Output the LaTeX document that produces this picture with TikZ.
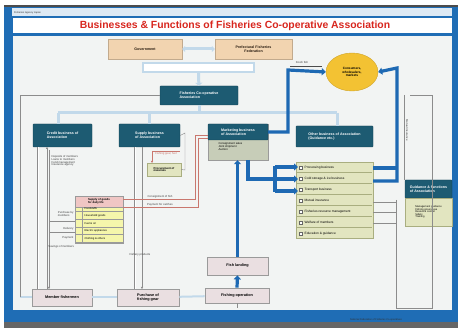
\documentclass[tikz,border=0pt]{standalone}
\usepackage{fontspec}
\setmainfont{Liberation Sans}
\usetikzlibrary{arrows.meta,shapes.geometric}
\definecolor{frameblue}{HTML}{1F6DB5}
\definecolor{titlered}{HTML}{D8261E}
\definecolor{panel}{HTML}{F2F4F3}
\definecolor{tealbox}{HTML}{1D5B72}
\definecolor{tanbox}{HTML}{F2D4B0}
\definecolor{yel}{HTML}{F3C233}
\definecolor{greenlist}{HTML}{E2E5C0}
\definecolor{greenedge}{HTML}{A9AE80}
\definecolor{graybox}{HTML}{EADFE1}
\definecolor{grayedge}{HTML}{9A9A9A}
\definecolor{lightblue}{HTML}{C2D9EA}
\definecolor{arrowblue}{HTML}{1E69B3}
\definecolor{pinkhead}{HTML}{F0C6C4}
\definecolor{redline}{HTML}{C9776E}
\definecolor{mktlow}{HTML}{C7CDB8}
\newcommand{\fs}[1]{\fontsize{#1}{#1}\selectfont}
\tikzset{
  tealnode/.style={draw=tealbox!70!black, fill=tealbox, text=white, font=\fs{3.6}\bfseries, align=left, inner sep=1pt, rounded corners=0.6pt},
  tannode/.style={draw=tanbox!80!black, fill=tanbox, text=black!80!brown, font=\fs{3.6}\bfseries, align=center, inner sep=1pt},
  graynode/.style={draw=grayedge, fill=graybox, font=\fs{3.8}\bfseries, align=center, inner sep=1pt, line width=0.8pt},
  listbox/.style={draw=greenedge, fill=greenlist, inner sep=0pt},
  itemtext/.style={font=\fs{3.2}, anchor=west, inner sep=0.5pt},
  small/.style={font=\fs{2.8}, text=black!75, inner sep=0.3pt, align=left},
  bluearrow/.style={draw=arrowblue, line width=3.2pt, -{Triangle[length=4pt,width=7pt]}},
  blueline/.style={draw=arrowblue, line width=3.2pt},
  lband/.style={draw=lightblue, line width=3pt},
  thin/.style={draw=black!45, line width=0.45pt},
  thinred/.style={draw=redline, line width=0.5pt},
}
\begin{document}
\begin{tikzpicture}[x=1pt,y=-1pt]
\useasboundingbox (0,0) rectangle (461,328);
\fill[white] (0,0) rectangle (461,328);
% frame
\fill[frameblue] (4,6) rectangle (458,324);
\fill[black!70] (4,5) rectangle (458,7);
\fill[black!60] (4,322) rectangle (458,328);
\fill[frameblue!15] (12,8) rectangle (452,16);
\fill[white] (13,18) rectangle (452,33);
\fill[panel] (13,36) rectangle (452,310);
\node[font=\fs{2.5}, text=black!80, anchor=west, inner sep=0pt] (toptag) at (14,13) {Fisheries Agency Japan};
\node[font=\fs{2.5}, text=black!80, anchor=west, inner sep=0pt] (bottag) at (350,320) {National Federation of Fisheries Co-operatives};
% title
\node[font=\fs{10.4}\bfseries, text=titlered] (title) at (235,25.5) {Businesses \& Functions of Fisheries Co-operative Association};

% top boxes
\node[tannode, minimum width=74pt, minimum height=20pt] (gov) at (145,49) {Government};
\node[tannode, minimum width=77pt, minimum height=20pt] (pref) at (253.5,49) {Prefectural Fisheries\\Federation};
\draw[draw=lightblue, line width=3pt, {Triangle[length=3pt,width=6pt]}-{Triangle[length=3pt,width=6pt]}] (gov) -- (pref);
\node[draw=lightblue, fill=white, line width=1.6pt, minimum width=111pt, minimum height=9pt, inner sep=0pt] (bridge) at (198.5,67.5) {};
\node[tealnode, minimum width=78pt, minimum height=19pt] (fca) at (199,95.5) {Fisheries Co-operative\\Association};
\draw[draw=lightblue, line width=3pt, -{Triangle[length=3pt,width=7pt]}] (bridge) -- (fca);

% business boxes
\node[tealnode, minimum width=59pt, minimum height=23pt] (credit) at (62.5,135.5) {Credit business of\\Association};
\node[tealnode, minimum width=61pt, minimum height=23pt] (supply) at (149.5,135.5) {Supply business\\of Association};
\node[draw=grayedge, fill=mktlow, minimum width=60pt, minimum height=36pt, inner sep=0pt] (mktall) at (238,142) {};
\node[tealnode, minimum width=60pt, minimum height=16pt] (mkt) at (238,132) {Marketing business\\of Association};
\node[small, anchor=north west, text=black] (mkttext) at (218,142) {Consignment sales\\Joint shipment\\Auction};
\node[tealnode, minimum width=77pt, minimum height=21pt] (other) at (334.5,136.5) {Other business of Association\\(Guidance etc.)};

% distribution band from FCA
\coordinate (bandL) at (58,113);
\coordinate (bandR) at (337,113);
\draw[lband] (fca.south) -- (199,113);
\draw[lband] (bandL) -- (bandR);
\draw[lband] (bandL) -- (credit.north -| bandL);
\draw[lband] (149.5,113) -- (supply.north);
\draw[lband] (bandR) -- (other.north -| bandR);

% consumer ellipse
\node[ellipse, fill=yel, draw=yel!85!black, minimum width=52pt, minimum height=38pt, inner sep=0pt, font=\fs{3.2}\bfseries, align=center] (cons) at (352,72) {Consumers,\\wholesalers,\\markets};

% list of other business
\node[listbox, minimum width=77pt, minimum height=76pt] (list) at (334.5,200) {};
\foreach \i/\t in {1/Processing business,2/Cold storage \& ice business,3/Transport business,4/Mutual insurance,5/Fisheries resource management,6/Welfare of members,7/Education \& guidance}{
  \draw[black!60, line width=0.35pt, fill=white] (299,154.8+\i*11) rectangle (302,157.8+\i*11);
  \node[itemtext] (it\i) at (304,156.3+\i*11) {\t};
  \draw[greenedge, line width=0.3pt] (297,161.5+\i*11) -- (372,161.5+\i*11);
}

% guidance box
\node[tealnode, minimum width=47pt, minimum height=18pt] (guid) at (428.5,189) {Guidance \& functions\\of Association};
\node[listbox, minimum width=47pt, minimum height=28pt, font=\fs{2.6}, align=left, inner sep=1pt] (guidlist) at (428.5,212) {Management guidance\\Fishing ground use\\Resource control\\Safety\\Training};

% bottom chain
\node[graynode, minimum width=61pt, minimum height=18pt] (land) at (237.5,266) {Fish landing};
\node[graynode, minimum width=64pt, minimum height=15pt] (fishop) at (237,295.5) {Fishing operation};
\node[graynode, minimum width=60pt, minimum height=17pt] (member) at (62,297.5) {Member fishermen};
\node[graynode, minimum width=62pt, minimum height=17pt] (purch) at (148,297.5) {Purchase of\\fishing gear};
\draw[lband, line width=2pt] (member) -- (purch);
\draw[lband, line width=2pt] (purch) -- (fishop);
\draw[lband, line width=2pt] (member.west) -- (20,297.5);

% thick blue arrows
\draw[bluearrow] (fishop.north) -- (land.south);
\draw[bluearrow] (land.north) -- (land.north |- mktall.south);
\draw[bluearrow] (mkt.east) -- (288,132) -- (288,70) -- (cons.west);
\draw[blueline] (373,168) -- (397,168);
\draw[bluearrow] (373,181) -- (397,181) -- (397,68) -- (cons.east);
\draw[blueline] (248,160) -- (248,179) -- (275,179);
\draw[blueline] (275,166) -- (275,192);
\draw[bluearrow] (275,167) -- (298,167);
\draw[bluearrow] (275,179) -- (298,179);
\draw[bluearrow] (275,191) -- (298,191);
\draw[black!70, line width=0.4pt] (290,66) -- (322,66);
\node[small] (freshlbl) at (302,63) {Fresh fish};

% left thin lines
\draw[thin] (fca.west) -- (20,95.5) -- (20,297.5);
\draw[thin, double, double distance=0.8pt] (38,147) -- (38,289);
\draw[thin, -{Triangle[length=2pt,width=2pt]}] (47,289) -- (47,147);
\draw[thin, -{Triangle[length=2pt,width=2pt]}] (49,150) -- (49,289);
\draw[thin, double, double distance=0.8pt] (135,147) -- (135,289);
\draw[thin, -{Triangle[length=2pt,width=2pt]}] (142,147) -- (142,289);
\node[small, anchor=north west] (credtext) at (51,155) {Deposits of members\\Loans to members\\Fund management\\Insurance agency};

% procurement box
\node[listbox, minimum width=34pt, minimum height=13pt, font=\fs{2.8}\bfseries, align=left, inner sep=1pt] (proc) at (164,169.5) {Procurement of\\materials};
\draw[thin] (supply.east) -- (185,133) -- (185,170) -- (proc.east);
\draw[thinred, -{Triangle[length=2pt,width=2pt]}] (152,151) -- (152,163);
\draw[thinred] (152,151) -- (180,151);
\node[small, text=redline] (proclbl) at (166,154) {Fishing gear, fuel};

% pink list
\node[draw=grayedge, fill=greenlist!60!yellow!60!white, minimum width=48pt, minimum height=47pt, inner sep=0pt] (plist) at (99,219.5) {};
\node[draw=grayedge, fill=pinkhead, minimum width=48pt, minimum height=11pt, inner sep=0.5pt, font=\fs{2.8}\bfseries, align=left] (phead) at (99,201.5) {Supply of goods\\for daily life};
\foreach \i/\t in {1/Foodstuffs,2/Household goods,3/Fuel \& oil,4/Electric appliances,5/Clothing \& others}{
  \node[font=\fs{2.7}, anchor=west, inner sep=0.3pt] (pl\i) at (84,200.5+\i*7.6) {\t};
  \draw[grayedge, line width=0.3pt] (76,204+\i*7.6) -- (123,204+\i*7.6);
}
\draw[grayedge, line width=0.3pt] (82,207) -- (82,243);
\draw[thinred] (plist.north east |- 0,199) -- (195,199) -- (195,135) -- (mktall.west |- 0,135);
\draw[thinred] (phead.east |- 0,207) -- (198,207) -- (198,138) -- (mktall.west |- 0,138);
\node[small] (redlbl1) at (160,196.5) {Consignment of fish};
\node[small] (redlbl2) at (160,204.5) {Payment for catches};
\node[small, anchor=east] (ll1) at (74,214) {Purchase by\\members};
\node[small, anchor=east] (ll2) at (74,229) {Delivery};
\node[small, anchor=east] (ll3) at (74,238) {Payment};
\node[small, anchor=west] (ll4) at (48,247) {Savings of members};
\draw[thin, line width=0.3pt] (50,221) -- (75,221);
\draw[thin, line width=0.3pt] (50,232) -- (75,232);
\node[small] (prodlbl) at (140,255) {Fishery products};

% right thin lines
\draw[thin] (373,202) -- (396,202);
\draw[thin] (373,212) -- (396,212);
\draw[thin] (373,223) -- (396,223);
\draw[thin] (396,200) -- (396,308) -- (432,308) -- (432,95) -- (410,95);
\draw[thin] (404,95) -- (404,180);
\node[small, rotate=-90] (mutlbl) at (407,130) {Mutual insurance};
\draw[thin] (fishop.south) -- (237,308);
\end{tikzpicture}
\end{document}
